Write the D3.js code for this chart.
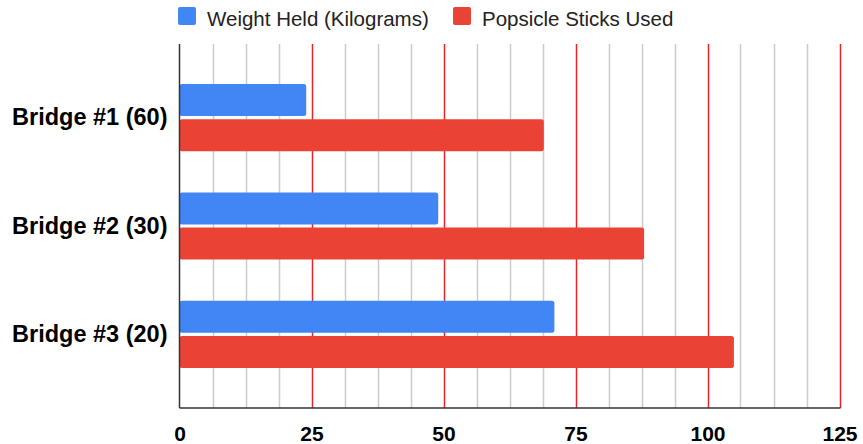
<!DOCTYPE html>
<html>
<head>
<meta charset="utf-8">
<script src="https://cdn.jsdelivr.net/npm/d3@7"></script>
<style>
  html, body { margin: 0; padding: 0; background: #fff; }
  svg { display: block; }
</style>
</head>
<body>
<svg id="chart" width="863" height="444"></svg>
<script>
// Bridge test results
const categories = ["Bridge #1 (60)", "Bridge #2 (30)", "Bridge #3 (20)"];
const seriesNames = ["Weight Held (Kilograms)", "Popsicle Sticks Used"];
const weightHeld = [24, 49, 71];
const sticksUsed = [69, 88, 105];
const majorTicks = [0, 25, 50, 75, 100, 125];
// three minor gridlines inside each major interval
const minorTicks = [6.25, 12.5, 18.75, 31.25, 37.5, 43.75, 56.25, 62.5, 68.75,
                    81.25, 87.5, 93.75, 106.25, 112.5, 118.75];

const colors = ["#4285f4", "#ea4335"];
const rows = categories.map((c, i) => ({ category: c, values: [weightHeld[i], sticksUsed[i]] }));

const svg = d3.select("#chart");
const plotLeft = 179.5, plotRight = 839.5, plotTop = 44, plotBottom = 408;
const font = "Liberation Sans, Arial, sans-serif";

const x = d3.scaleLinear().domain([0, 125]).range([plotLeft, plotRight]);
const y0 = d3.scaleBand().domain(categories).range([plotTop, plotBottom])
  .paddingInner(0.381).paddingOuter(0.37);
const y1 = d3.scaleBand().domain(d3.range(seriesNames.length))
  .range([0, y0.bandwidth()]).paddingInner(0.09);

// Minor gridlines
svg.append("g").selectAll("line").data(minorTicks).join("line")
  .attr("x1", d => Math.round(x(d)) + 0.5).attr("x2", d => Math.round(x(d)) + 0.5)
  .attr("y1", plotTop).attr("y2", plotBottom)
  .attr("stroke", "#cccccc").attr("stroke-width", 1.5);

// Major gridlines
svg.append("g").selectAll("line").data(majorTicks.filter(d => d > 0)).join("line")
  .attr("x1", d => Math.round(x(d)) + 0.5).attr("x2", d => Math.round(x(d)) + 0.5)
  .attr("y1", plotTop).attr("y2", plotBottom)
  .attr("stroke", "#e3262a").attr("stroke-width", 1.5);

// Bars
const groups = svg.append("g").selectAll("g").data(rows).join("g")
  .attr("transform", d => `translate(0,${y0(d.category)})`);
groups.selectAll("rect").data(d => d.values.map((v, i) => ({ v, i }))).join("rect")
  .attr("x", x(0))
  .attr("y", d => y1(d.i))
  .attr("width", d => x(d.v) - x(0))
  .attr("height", y1.bandwidth())
  .attr("rx", 2.5)
  .attr("fill", d => colors[d.i]);

// Baseline axes
svg.append("line").attr("x1", plotLeft).attr("x2", plotLeft).attr("y1", plotTop).attr("y2", plotBottom)
  .attr("stroke", "#333").attr("stroke-width", 1.5);
svg.append("line").attr("x1", plotLeft).attr("x2", plotRight + 1).attr("y1", plotBottom).attr("y2", plotBottom)
  .attr("stroke", "#333").attr("stroke-width", 1.5);

// X axis tick labels
const xAxis = d3.axisBottom(x).tickValues(majorTicks).tickSize(0).tickPadding(0);
const gx = svg.append("g").attr("transform", `translate(0,${plotBottom})`).call(xAxis);
gx.select(".domain").remove();
gx.selectAll("text")
  .attr("dy", null).attr("y", 33)
  .attr("font-family", font)
  .attr("font-size", 21).attr("font-weight", "bold").attr("fill", "#000");

// Category labels
const yAxis = d3.axisLeft(y0).tickSize(0).tickPadding(12);
const gy = svg.append("g").attr("transform", `translate(${plotLeft},0)`).call(yAxis);
gy.select(".domain").remove();
gy.selectAll("text")
  .attr("font-family", font)
  .attr("font-size", 23.5).attr("font-weight", "bold").attr("fill", "#000");

// Legend
const legendPos = [178, 453];
const legend = svg.append("g").selectAll("g").data(seriesNames).join("g")
  .attr("transform", (d, i) => `translate(${legendPos[i]},7)`);
legend.append("rect").attr("width", 18).attr("height", 18).attr("rx", 2)
  .attr("fill", (d, i) => colors[i]);
legend.append("text").attr("x", 29).attr("y", 18.5)
  .attr("font-family", font).attr("font-size", 20.5)
  .attr("fill", "#222").text(d => d);
</script>
</body>
</html>
